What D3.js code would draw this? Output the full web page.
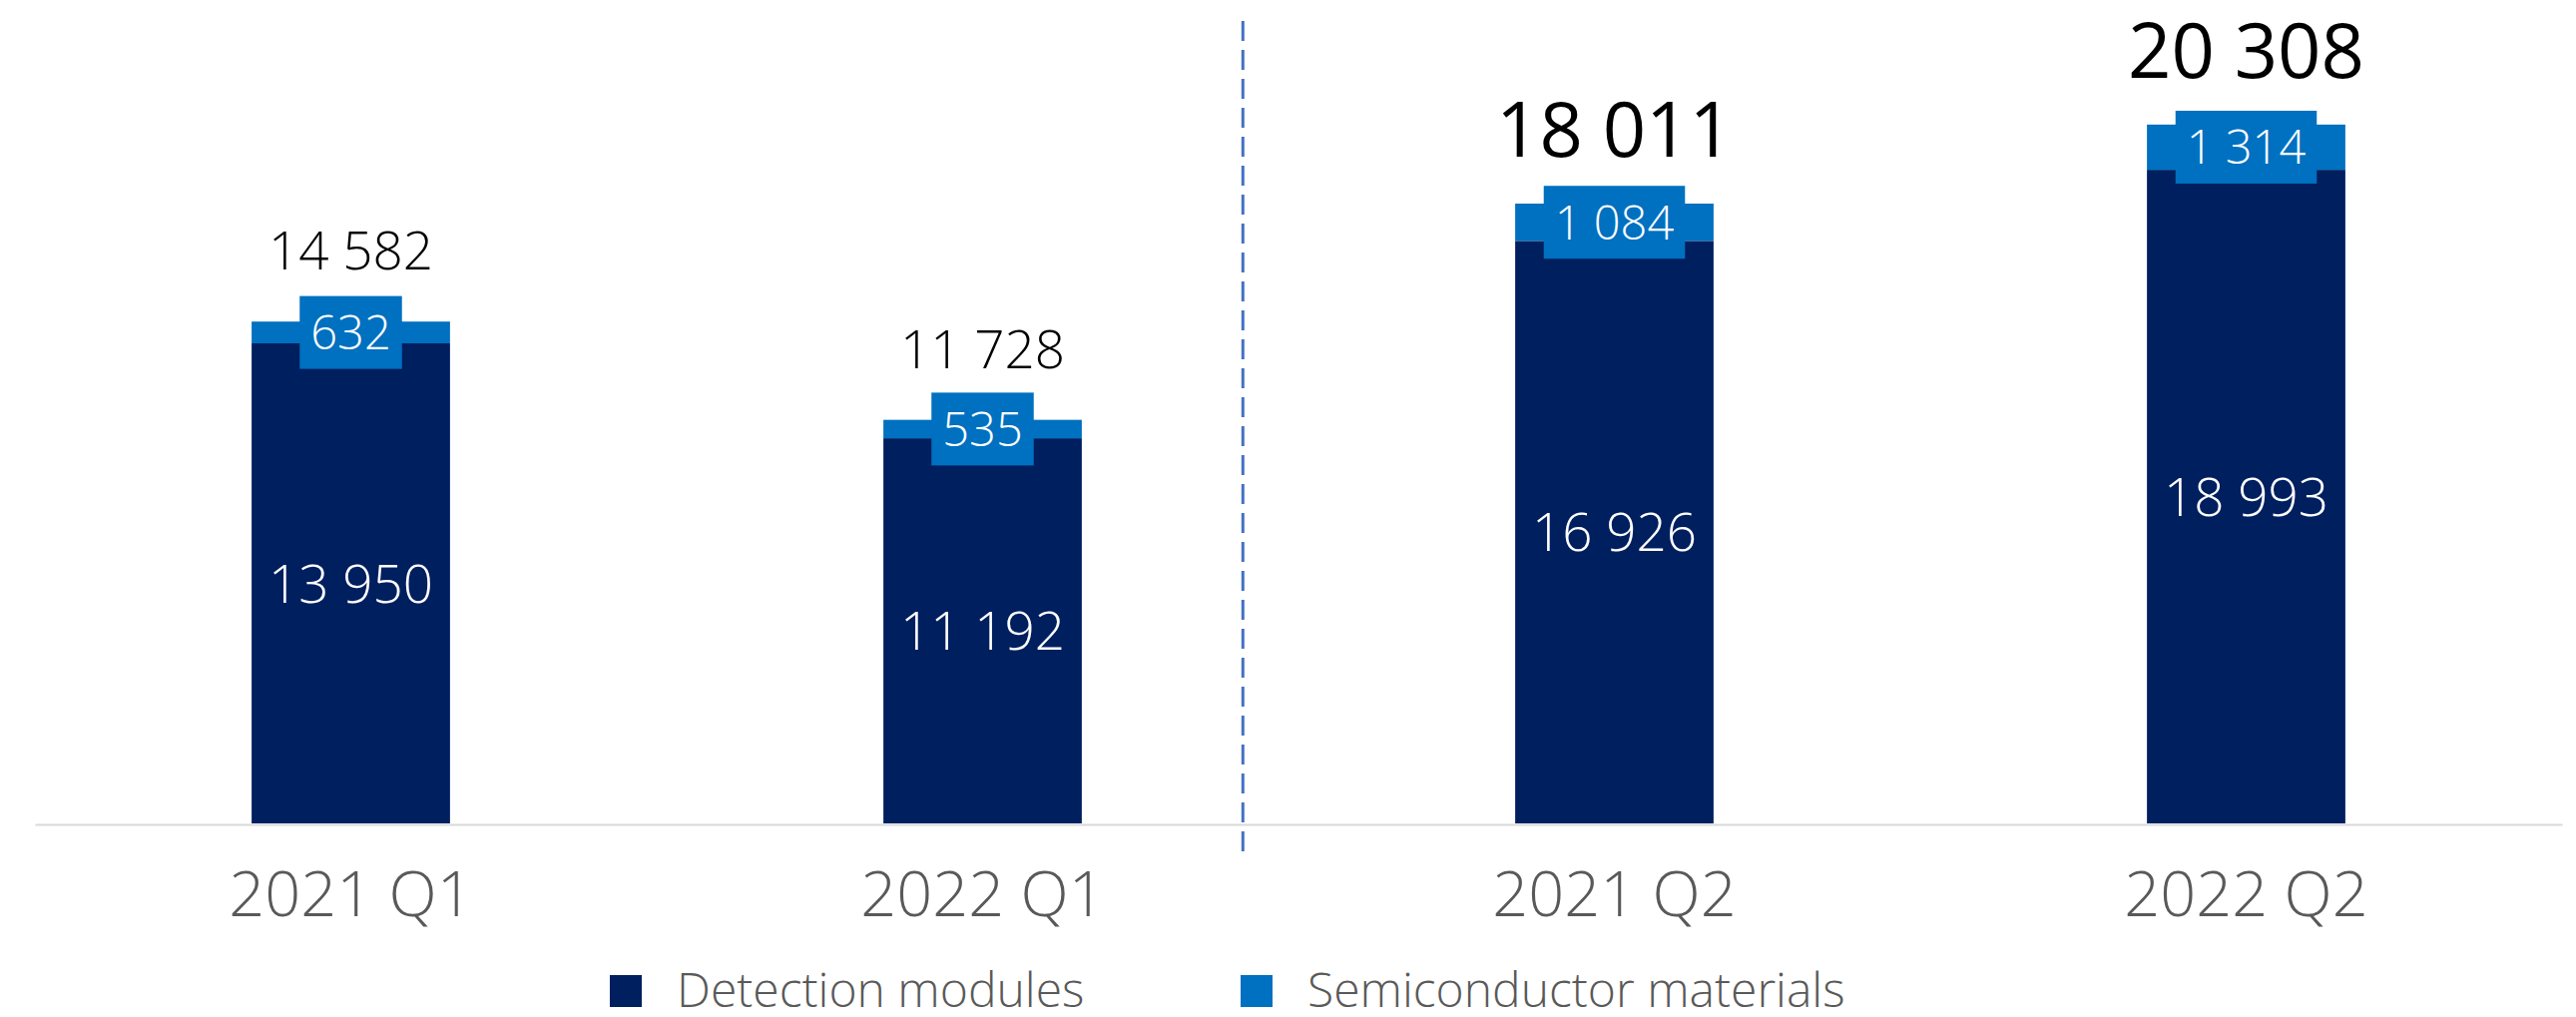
<!DOCTYPE html>
<html>
<head>
<meta charset="utf-8">
<script src="https://cdn.jsdelivr.net/npm/d3@7"></script>
<style>
  html, body { margin: 0; padding: 0; background: #ffffff; }
  svg { display: block; font-family: "Open Sans", "Noto Sans", sans-serif; }
</style>
</head>
<body>
<svg id="chart" width="2581" height="1019"></svg>
<script>
// Quarterly sales by segment (SEK thousand)
const quarters = ["2021 Q1", "2022 Q1", "2021 Q2", "2022 Q2"];
const detectionModules = [13950, 11192, 16926, 18993];
const semiconductorMaterials = [632, 535, 1084, 1314];
const totals = [14582, 11728, 18011, 20308];
const seriesNames = ["Detection modules", "Semiconductor materials"];
const seriesColors = ["#001F5F", "#0070C0"];
// Second half of the chart (Q2 comparison) gets larger total labels
const emphasised = [false, false, true, true];

const W = 2581, H = 1019;
const baseY = 825;

const svg = d3.select("#chart");

const fmt = d3.formatLocale({ decimal: ",", thousands: "\u00a0", grouping: [3], currency: ["", ""] }).format(",d");

const x = d3.scaleBand()
  .domain(quarters)
  .range([35, 2567])
  .paddingInner(0.686)
  .paddingOuter(0.343);

const y = d3.scaleLinear()
  .domain([0, 23927])
  .range([baseY, 0]);

// Stack the two series
const rows = quarters.map((q, i) => ({
  quarter: q,
  detection: detectionModules[i],
  semi: semiconductorMaterials[i]
}));
const stack = d3.stack().keys(["detection", "semi"]);
const layers = stack(rows);

// Divider between Q1 and Q2 comparisons
const dividerX = x(quarters[2]) - x.step() * 0.431;
svg.append("line")
  .attr("x1", dividerX).attr("x2", dividerX)
  .attr("y1", 21).attr("y2", 853)
  .attr("stroke", "#4472C4")
  .attr("stroke-width", 3)
  .attr("stroke-dasharray", "20 9");

// Bars
svg.append("g").selectAll("g")
  .data(layers)
  .join("g")
  .attr("fill", (d, i) => seriesColors[i])
  .selectAll("rect")
  .data(d => d)
  .join("rect")
  .attr("x", d => x(d.data.quarter))
  .attr("width", x.bandwidth())
  .attr("y", d => y(d[1]))
  .attr("height", d => y(d[0]) - y(d[1]));

// Baseline axis
const xAxis = d3.axisBottom(x).tickSize(0).tickPadding(0);
const axisG = svg.append("g")
  .attr("transform", `translate(0,${baseY + 1})`)
  .call(xAxis);
axisG.select(".domain")
  .attr("stroke", "#D9D9D9")
  .attr("stroke-width", 2);
axisG.selectAll(".tick text")
  .attr("y", 92)
  .attr("dy", 0)
  .attr("fill", "#595959")
  .attr("font-size", 63)
  .attr("font-weight", 300)
  .attr("font-family", "'Open Sans', sans-serif");

// Detection module values inside the dark segment
const cx = q => x(q) + x.bandwidth() / 2;
svg.append("g").selectAll("text")
  .data(layers[0])
  .join("text")
  .attr("x", d => cx(d.data.quarter))
  .attr("y", d => (y(d[0]) + y(d[1])) / 2)
  .attr("dy", "0.36em")
  .attr("text-anchor", "middle")
  .attr("fill", "#ffffff")
  .attr("font-size", 53)
  .attr("font-weight", 300)
  .text(d => fmt(d.data.detection));

// Semiconductor values on a boxed label over the thin segment
const semiLabels = svg.append("g").selectAll("g")
  .data(layers[1])
  .join("g")
  .attr("transform", d => `translate(${cx(d.data.quarter)},${(y(d[0]) + y(d[1])) / 2})`);
semiLabels.append("text")
  .attr("text-anchor", "middle")
  .attr("dy", "0.36em")
  .attr("fill", "#ffffff")
  .attr("font-size", 47)
  .attr("font-weight", 300)
  .text(d => fmt(d.data.semi));
semiLabels.each(function () {
  const g = d3.select(this);
  const w = g.select("text").node().getComputedTextLength() + 22;
  g.insert("rect", "text")
    .attr("x", -w / 2)
    .attr("y", -36.5)
    .attr("width", w)
    .attr("height", 73)
    .attr("fill", seriesColors[1]);
});

// Totals above each bar
svg.append("g").selectAll("text")
  .data(quarters)
  .join("text")
  .attr("x", q => cx(q))
  .attr("y", (q, i) => y(totals[i]) - (emphasised[i] ? 47 : 52))
  .attr("text-anchor", "middle")
  .attr("fill", "#000000")
  .attr("font-size", (q, i) => emphasised[i] ? 76 : 53)
  .attr("font-weight", (q, i) => emphasised[i] ? 400 : 300)
  .text((q, i) => fmt(totals[i]));

// Legend
const legendItems = [
  { name: seriesNames[0], color: seriesColors[0], x: 611 },
  { name: seriesNames[1], color: seriesColors[1], x: 1243 }
];
const legend = svg.append("g").selectAll("g")
  .data(legendItems)
  .join("g")
  .attr("transform", d => `translate(${d.x},0)`);
legend.append("rect")
  .attr("x", 0).attr("y", 977)
  .attr("width", 32).attr("height", 32)
  .attr("fill", d => d.color);
legend.append("text")
  .attr("x", 67)
  .attr("y", 1009)
  .attr("fill", "#595959")
  .attr("font-size", 48)
  .attr("font-weight", 300)
  .text(d => d.name);
</script>
</body>
</html>
